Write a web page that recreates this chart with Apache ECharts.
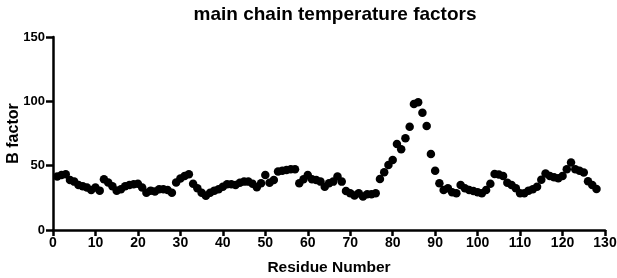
<!DOCTYPE html>
<html><head><meta charset="utf-8">
<script src="https://cdn.jsdelivr.net/npm/echarts@6/dist/echarts.min.js"></script>
<style>html,body{margin:0;padding:0;background:#fff}#c{width:617px;height:278px}</style>
</head><body><div id="c"></div>
<script>
const titleText = "main chain temperature factors";
const xAxisName = "Residue Number";
const yAxisName = "B factor";
const residues = [];
for (let i = 1; i <= 128; i++) residues.push(i);
const bFactors = [
  41.5,42.7,43.4,38.9,37.6,35,34,33,31,33,30.6,39.5,37,34,30.6,31.6,34,35,35.5,36,
  33,29,30.6,30,31.6,31.6,31,29,37,40,42,43.3,36,32.5,29,26.7,29,30.6,31.6,33.6,
  35.5,35.5,35,36.8,37.6,37.6,35.9,33.3,36.3,42.8,36.8,38.9,45.4,46,46.6,47.3,47.3,36.3,39.4,42.8,
  39.4,38.9,37.6,33.6,36.3,37.6,41.5,37.6,30.3,28.5,26.8,28.5,26,27.7,27.7,28.5,39.6,44.8,50.5,54.4,
  66.9,62.7,71.3,80.3,98,99.3,91.2,80.9,59,46.1,36.3,31.1,32.4,29.3,28.5,35,32.4,31.1,30.3,29.3,
  28.5,31,36,43.5,43.1,42,36.8,35,32.4,28.5,28.5,30.6,31.6,33.7,39,44,42,41,40.3,42,
  47.2,52.4,47.2,46,44.7,37.8,35,31.9
];
const xTicks = {min: 0, max: 130, interval: 10};
const yTicks = {min: 0, max: 150, interval: 50};

const data = residues.map((r, i) => [r, bFactors[i]]);
const chart = echarts.init(document.getElementById('c'));
const font = 'Liberation Sans, Arial, sans-serif';
chart.setOption({
  animation: false,
  title: {text: titleText, left: 330, top: 0, textAlign: 'center',
    textStyle: {fontFamily: font, fontWeight: 'bold', fontSize: 19, color: '#000'}},
  grid: {left: 53, right: 12, top: 37, bottom: 48, outerBoundsMode: 'none', containLabel: false},
  xAxis: {type: 'value', min: xTicks.min, max: xTicks.max, interval: xTicks.interval,
    name: xAxisName, nameLocation: 'middle', nameGap: 30, nameMoveOverlap: false,
    nameTextStyle: {fontFamily: font, fontWeight: 'bold', fontSize: 15.5, color: '#000'},
    axisLine: {lineStyle: {color: '#000', width: 2.5}},
    axisTick: {length: 6, lineStyle: {color: '#000', width: 2.5}},
    axisLabel: {fontFamily: font, fontWeight: 'bold', fontSize: 14, color: '#000', margin: 6},
    splitLine: {show: false}},
  yAxis: {type: 'value', min: yTicks.min, max: yTicks.max, interval: yTicks.interval,
    name: yAxisName, nameLocation: 'middle', nameGap: 31, nameRotate: 90, nameMoveOverlap: false,
    nameTextStyle: {fontFamily: font, fontWeight: 'bold', fontSize: 16, color: '#000'},
    axisLine: {show: true, lineStyle: {color: '#000', width: 2.5}},
    axisTick: {show: true, length: 7, lineStyle: {color: '#000', width: 2.5}},
    axisLabel: {fontFamily: font, fontWeight: 'bold', fontSize: 13, color: '#000', margin: 8},
    splitLine: {show: false}},
  series: [{type: 'scatter', data: data, symbol: 'circle', symbolSize: 8.5,
    itemStyle: {color: '#000', opacity: 1}}]
});
</script></body></html>
